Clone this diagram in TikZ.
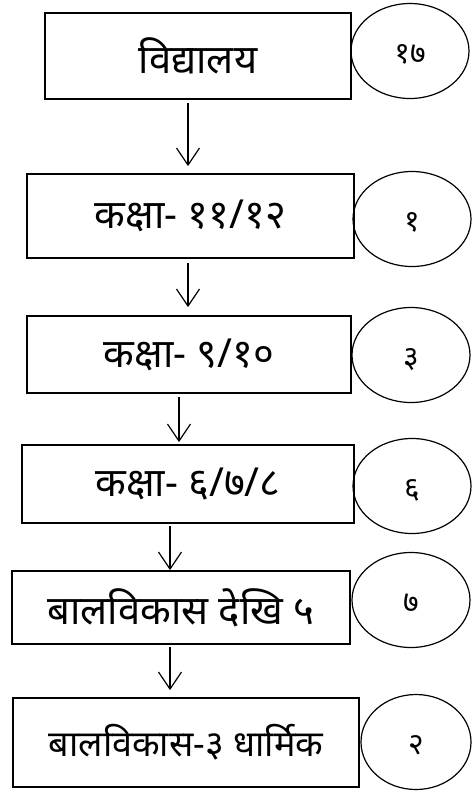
\documentclass[tikz,border=0pt]{standalone}
\usepackage{fontspec}
\newfontfamily\devfont[Script=Devanagari]{Noto Sans}
\usetikzlibrary{arrows.meta,shapes.geometric}
\begin{document}
\begin{tikzpicture}[x=1pt,y=-1pt,
    tier/.style={draw,line width=1.8pt,inner sep=0pt,
      font=\devfont\fontsize{40}{46}\selectfont},
    count/.style={draw,ellipse,line width=1.2pt,inner sep=0pt,
      minimum width=118pt,minimum height=95pt,
      text height=24pt,text depth=0pt,
      font=\devfont\fontsize{30}{36}\selectfont},
    >={Straight Barb[length=17pt,width=23pt]}]
      \useasboundingbox (0,0) rectangle (472,796);
      \draw
        (198,56) node[tier,minimum width=306pt,minimum height=86pt] (t1){विद्यालय}
        (190.5,216) node[tier,minimum width=327pt,minimum height=84pt] (t2){कक्षा- ११/१२}
        (189,354.5) node[tier,minimum width=324pt,minimum height=77pt] (t3){कक्षा- ९/१०}
        (188,484) node[tier,minimum width=332pt,minimum height=78pt] (t4){कक्षा- ६/७/८}
        (181,607.5) node[tier,minimum width=338pt,minimum height=73pt] (t5){बालविकास देखि ५}
        (186,742.5) node[tier,minimum width=346pt,minimum height=89pt,
          font=\devfont\fontsize{36}{42}\selectfont] (t6){बालविकास-३ धार्मिक};
      \draw
        (410,51) node[count] (c1){१७}
        (412,219) node[count] (c2){१}
        (411,355) node[count] (c3){३}
        (412,486) node[count] (c4){६}
        (411,600) node[count] (c5){७}
        (416,742) node[count,minimum width=110pt] (c6){२};
      \coordinate (x1) at (188,0);
      \coordinate (x2) at (188,0);
      \coordinate (x3) at (179,0);
      \coordinate (x4) at (170,0);
      \coordinate (x5) at (170,0);
      \begin{scope}[->,line width=1.2pt]
        \draw[shorten <=3pt,shorten >=7pt] (t1.south -| x1) to (t2.north -| x1);
        \draw[shorten <=4pt,shorten >=8pt] (t2.south -| x2) to (t3.north -| x2);
        \draw[shorten <=3pt,shorten >=2pt] (t3.south -| x3) to (t4.north -| x3);
        \draw[shorten <=2pt] (t4.south -| x4) to (t5.north -| x4);
        \draw[shorten <=2pt,shorten >=7pt] (t5.south -| x5) to (t6.north -| x5);
      \end{scope}
    \end{tikzpicture}
\end{document}
